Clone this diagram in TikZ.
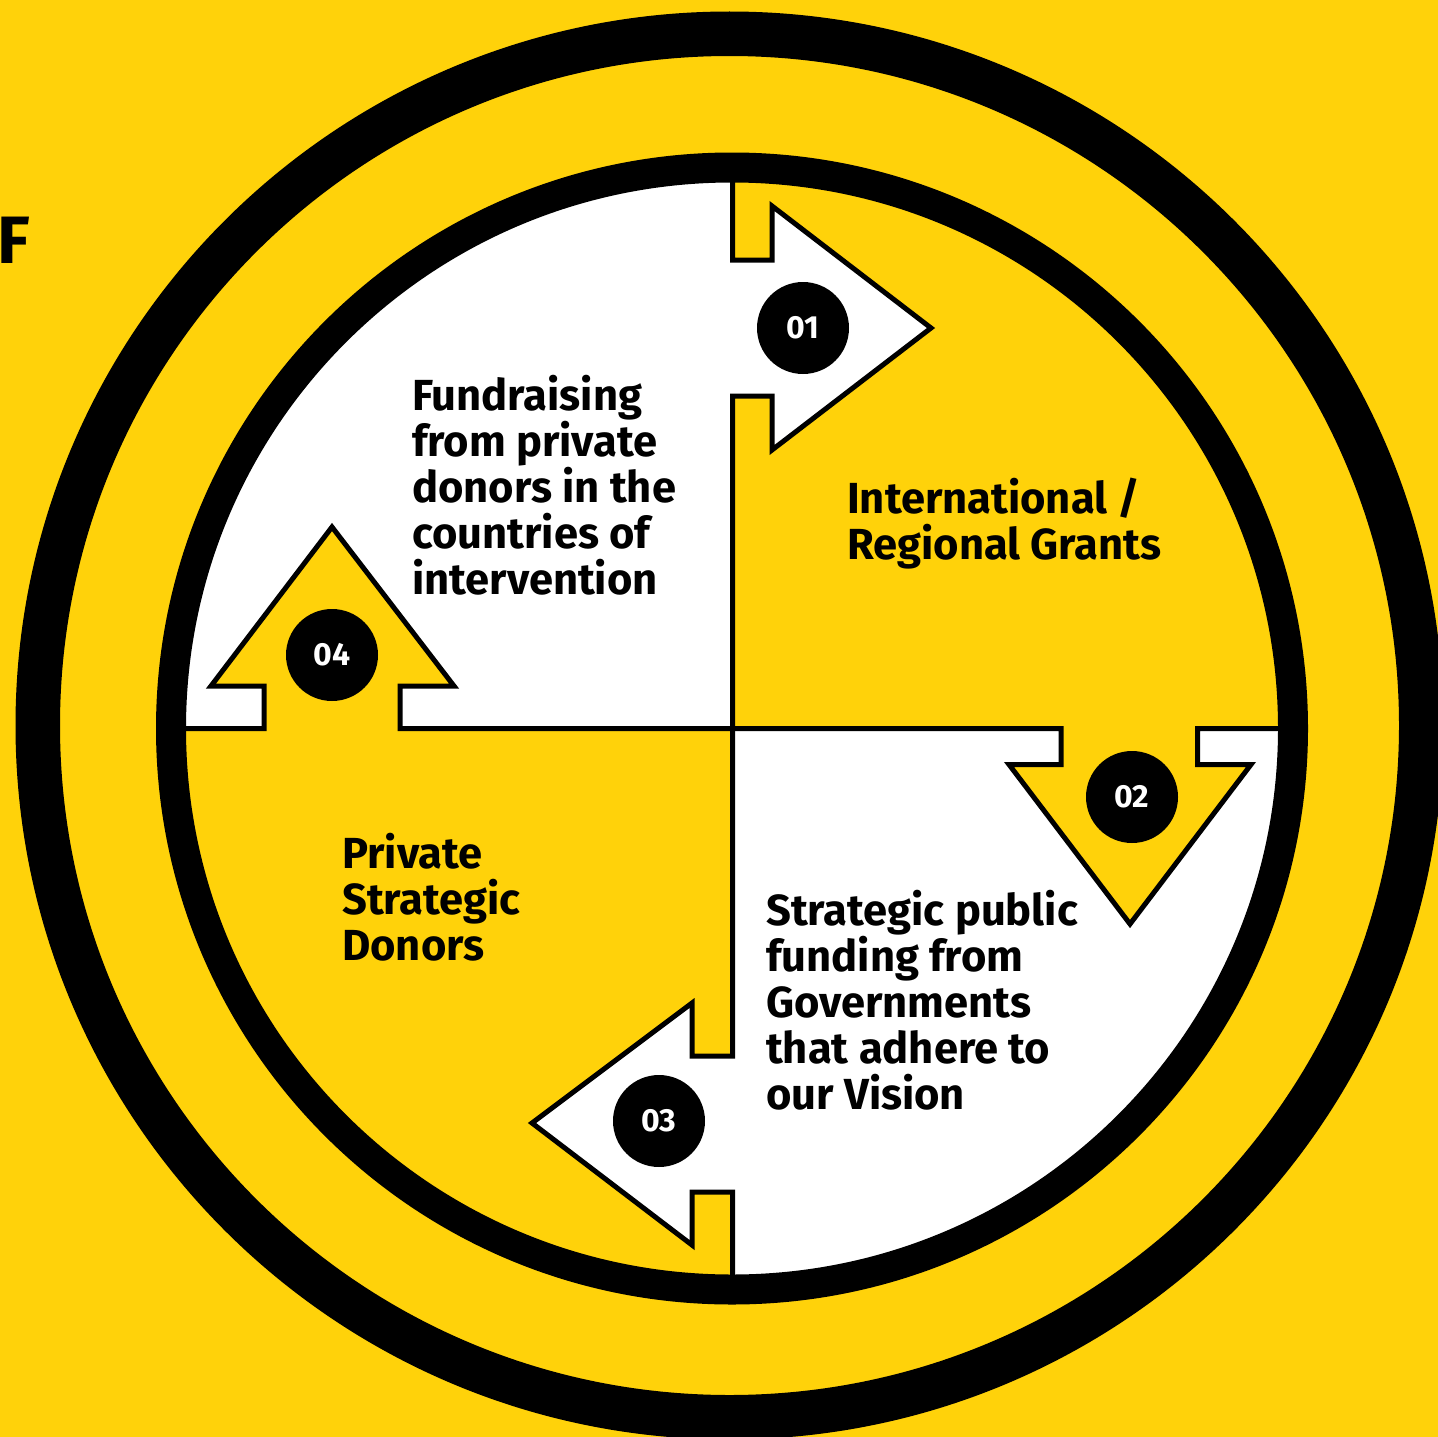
\documentclass[tikz,border=0pt]{standalone}
\usepackage{fontspec}
\setmainfont{Fira Sans}
\newfontfamily\dinfont{Fira Sans}
\definecolor{yel}{RGB}{255,210,10}
\newcommand{\blocktext}[1]{\parbox[t]{520pt}{\raggedright\lineskiplimit=-100pt\baselineskip=46pt #1}}
\tikzset{
  lbl/.style={anchor=base west, inner sep=0pt, text=black,
    font=\dinfont\bfseries\fontsize{43.5}{46}\selectfont},
  numdot/.style={circle, fill=black, minimum size=92pt, inner sep=0pt, text=white,
    font=\dinfont\bfseries\fontsize{32}{32}\selectfont},
  divline/.style={draw=black, line width=5pt, line join=miter, miter limit=10},
}
\begin{document}
\begin{tikzpicture}[x=1pt,y=-1pt]
\useasboundingbox (0,0) rectangle (1438,1437);
\fill[yel] (0,0) rectangle (1438,1437);
% outer ring
\draw[black, line width=44.5pt] (729.5,725.5) circle[radius=691.75];
% inner disc contents
\begin{scope}
  \clip (732,728.5) circle[radius=561];
  \fill[yel] (732,728.5) circle[radius=561];
  \fill[white] (0,0) rectangle (732.5,728.5);
  \fill[white] (732.5,728.5) rectangle (1438,1437);
  % arrow 01 (white, right)
  \fill[white] (728,260) -- (772,260) -- (772,206) -- (931,328) -- (772,450) -- (772,396) -- (728,396) -- cycle;
  % arrow 03 (white, left)
  \fill[white] (737,1056) -- (692,1056) -- (692,1003) -- (532,1123) -- (692,1245) -- (692,1192) -- (737,1192) -- cycle;
  % arrow 02 (yellow, down)
  \fill[yel] (1061,724) -- (1061,764.5) -- (1009,764.5) -- (1130,924) -- (1251,764.5) -- (1197.5,764.5) -- (1197.5,724) -- cycle;
  % arrow 04 (yellow, up)
  \fill[yel] (264,733) -- (264,686) -- (211,686) -- (332,527) -- (454,686) -- (400,686) -- (400,733) -- cycle;
  % dividing lines with arrow outlines
  \draw[divline] (732.5,150) -- (732.5,260) -- (772,260) -- (772,206) -- (931,328) -- (772,450) -- (772,396) -- (732.5,396)
    -- (732.5,1056) -- (692,1056) -- (692,1003) -- (532,1123) -- (692,1245) -- (692,1192) -- (732.5,1192) -- (732.5,1310);
  \draw[divline] (150,728.5) -- (264,728.5) -- (264,686) -- (211,686) -- (332,527) -- (454,686) -- (400,686) -- (400,728.5)
    -- (1061,728.5) -- (1061,764.5) -- (1009,764.5) -- (1130,924) -- (1251,764.5) -- (1197.5,764.5) -- (1197.5,728.5) -- (1310,728.5);
\end{scope}
% inner ring
\draw[black, line width=30pt] (732,728.5) circle[radius=561];
% number dots
\node[numdot] (n1) at (803,328) {01};
\node[numdot] (n2) at (1132,797) {02};
\node[numdot] (n3) at (659,1121) {03};
\node[numdot] (n4) at (332,655) {04};
% texts
\node[lbl] (t1) at (412,410) {\blocktext{Fundraising\\from private\\donors in the\\countries of\\intervention}};
\node[lbl] (t2) at (847,513) {\blocktext{International /\\Regional Grants}};
\node[lbl] (t3) at (766,925) {\blocktext{Strategic public\\funding from\\Governments\\that adhere to\\our Vision}};
\node[lbl] (t4) at (342,868) {\blocktext{Private\\Strategic\\Donors}};
\node[anchor=base west, inner sep=0pt, font=\dinfont\bfseries\fontsize{67}{67}\selectfont] (f) at (-3,263) {F};
\end{tikzpicture}
\end{document}
